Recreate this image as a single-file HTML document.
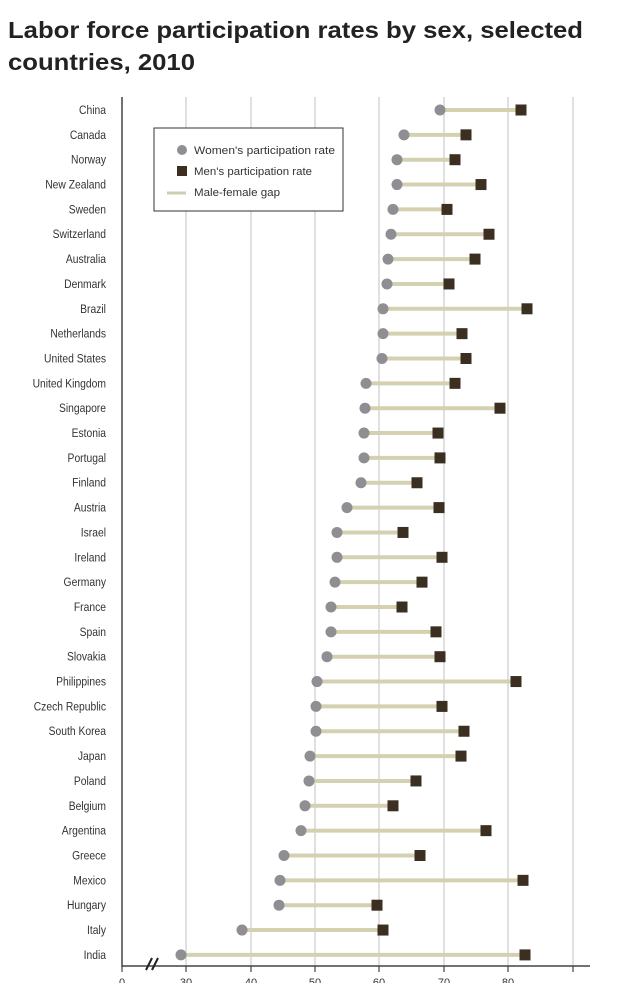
<!DOCTYPE html>
<html><head><meta charset="utf-8"><style>
html,body{margin:0;padding:0;background:#fff;}
svg{display:block;font-family:"Liberation Sans",sans-serif;}
</style></head><body>
<svg width="640" height="983" viewBox="0 0 640 983">
<text x="8" y="38" font-size="23" font-weight="bold" fill="#222" textLength="575" lengthAdjust="spacingAndGlyphs">Labor force participation rates by sex, selected</text>
<text x="8" y="70" font-size="23" font-weight="bold" fill="#222" textLength="187" lengthAdjust="spacingAndGlyphs">countries, 2010</text>
<g stroke="#d6d6d6" stroke-width="1.5">
<line x1="186" y1="97" x2="186" y2="966"/><line x1="251" y1="97" x2="251" y2="966"/>
<line x1="315" y1="97" x2="315" y2="966"/><line x1="379" y1="97" x2="379" y2="966"/>
<line x1="444" y1="97" x2="444" y2="966"/><line x1="508" y1="97" x2="508" y2="966"/>
<line x1="573" y1="97" x2="573" y2="966"/>
</g>
<line x1="122" y1="97" x2="122" y2="967" stroke="#444" stroke-width="1.5"/>
<line x1="122" y1="966" x2="590" y2="966" stroke="#444" stroke-width="1.5"/>
<g stroke="#444" stroke-width="1.2">
<line x1="122" y1="966" x2="122" y2="972"/><line x1="186" y1="966" x2="186" y2="972"/><line x1="251" y1="966" x2="251" y2="972"/><line x1="315" y1="966" x2="315" y2="972"/><line x1="379" y1="966" x2="379" y2="972"/><line x1="444" y1="966" x2="444" y2="972"/><line x1="508" y1="966" x2="508" y2="972"/><line x1="573" y1="966" x2="573" y2="972"/>
</g>
<g stroke="#222" stroke-width="2"><line x1="146" y1="970" x2="152" y2="958"/><line x1="152" y1="970" x2="158" y2="958"/></g>
<g font-size="11" fill="#333" text-anchor="middle">
<text x="122" y="986">0</text><text x="186" y="986">30</text><text x="251" y="986">40</text><text x="315" y="986">50</text><text x="379" y="986">60</text><text x="444" y="986">70</text><text x="508" y="986">80</text>
</g>
<g id="rows"></g>
<rect x="154" y="128" width="189" height="83" fill="#fff" stroke="#333" stroke-width="1"/>
<circle cx="182" cy="150" r="5" fill="#8e8e93"/>
<rect x="177" y="166" width="10" height="10" fill="#3b2f22"/>
<line x1="167" y1="193" x2="186" y2="193" stroke="#cfcdb0" stroke-width="3"/>
<g font-size="11" fill="#333">
<text x="194" y="154" textLength="141" lengthAdjust="spacingAndGlyphs">Women's participation rate</text>
<text x="194" y="175" textLength="118" lengthAdjust="spacingAndGlyphs">Men's participation rate</text>
<text x="194" y="196" textLength="86" lengthAdjust="spacingAndGlyphs">Male-female gap</text>
</g>
</svg>
<script>
var d=[["China",440,521],["Canada",404,466],["Norway",397,455],["New Zealand",397,481],["Sweden",393,447],["Switzerland",391,489],["Australia",388,475],["Denmark",387,449],["Brazil",383,527],["Netherlands",383,462],["United States",382,466],["United Kingdom",366,455],["Singapore",365,500],["Estonia",364,438],["Portugal",364,440],["Finland",361,417],["Austria",347,439],["Israel",337,403],["Ireland",337,442],["Germany",335,422],["France",331,402],["Spain",331,436],["Slovakia",327,440],["Philippines",317,516],["Czech Republic",316,442],["South Korea",316,464],["Japan",310,461],["Poland",309,416],["Belgium",305,393],["Argentina",301,486],["Greece",284,420],["Mexico",280,523],["Hungary",279,377],["Italy",242,383],["India",181,525]];
var s="",ns="http://www.w3.org/2000/svg";
d.forEach(function(r,i){var y=110+i*24.85;
s+='<line x1="'+r[1]+'" y1="'+y+'" x2="'+r[2]+'" y2="'+y+'" stroke="#d4d1b0" stroke-width="4"/>';
s+='<circle cx="'+r[1]+'" cy="'+y+'" r="5.5" fill="#8e8e93"/>';
s+='<rect x="'+(r[2]-5.5)+'" y="'+(y-5.5)+'" width="11" height="11" fill="#3b2f22"/>';
s+='<text x="106" y="'+(y+4)+'" font-size="12" fill="#333" text-anchor="end" transform="translate(106 0) scale(0.86 1) translate(-106 0)">'+r[0]+'</text>';});
document.getElementById("rows").innerHTML=s;
</script>
</body></html>
